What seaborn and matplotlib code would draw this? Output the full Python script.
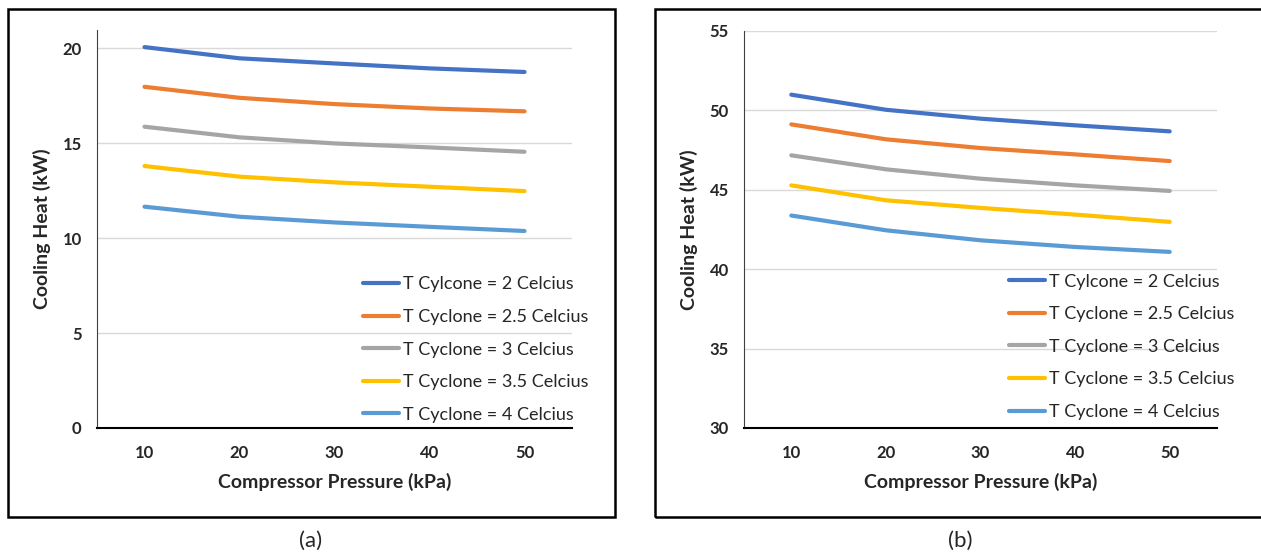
"""Cooling heat vs compressor pressure for several cyclone temperatures."""

import matplotlib.pyplot as plt
import matplotlib.patches as patches
import pandas as pd
import seaborn as sns

sns.set_theme(style="white")
plt.rcParams["font.family"] = ["Lato", "DejaVu Sans"]

# data
pressure = [10, 20, 30, 40, 50]
series_labels = [
    "T Cylcone = 2 Celcius",
    "T Cyclone = 2.5 Celcius",
    "T Cyclone = 3 Celcius",
    "T Cyclone = 3.5 Celcius",
    "T Cyclone = 4 Celcius",
]
heat_a = [
    [20.05, 19.46, 19.19, 18.93, 18.74],
    [17.96, 17.38, 17.05, 16.82, 16.67],
    [15.86, 15.30, 14.98, 14.77, 14.54],
    [13.79, 13.23, 12.93, 12.70, 12.47],
    [11.65, 11.12, 10.82, 10.59, 10.37],
]
heat_b = [
    [50.99, 50.04, 49.48, 49.06, 48.68],
    [49.12, 48.18, 47.63, 47.23, 46.81],
    [47.17, 46.29, 45.70, 45.28, 44.93],
    [45.28, 44.34, 43.86, 43.44, 42.98],
    [43.38, 42.45, 41.82, 41.40, 41.09],
]
colors = ["#4472C4", "#ED7D31", "#A5A5A5", "#FFC000", "#5B9BD5"]
yticks_a = [0, 5, 10, 15, 20]
yticks_b = [30, 35, 40, 45, 50, 55]


def to_long(values):
    rows = []
    for label, vals in zip(series_labels, values):
        for p, v in zip(pressure, vals):
            rows.append({"pressure": p, "heat": v, "series": label})
    return pd.DataFrame(rows)


def draw_panel(ax, values, yticks, ylim, legend_anchor):
    df = to_long(values)
    sns.lineplot(data=df, x="pressure", y="heat", hue="series", hue_order=series_labels,
                 palette=colors, linewidth=3, ax=ax, solid_capstyle="round")
    ax.set_xlim(5, 55)
    ax.set_ylim(*ylim)
    ax.set_xticks(pressure)
    ax.set_yticks(yticks)
    ax.set_xticklabels([str(p) for p in pressure], fontweight="bold", fontsize=12)
    ax.set_yticklabels([str(t) for t in yticks], fontweight="bold", fontsize=12)
    ax.tick_params(axis="x", length=0, pad=12)
    ax.tick_params(axis="y", length=0, pad=11)
    ax.grid(axis="y", color="#D9D9D9", linewidth=1)
    for s in ["top", "right"]:
        ax.spines[s].set_visible(False)
    ax.spines["left"].set_color("#404040")
    ax.spines["left"].set_linewidth(0.8)
    ax.spines["bottom"].set_color("black")
    ax.spines["bottom"].set_linewidth(1.5)
    ax.set_xlabel("Compressor Pressure (kPa)", fontweight="bold", fontsize=14, labelpad=9)
    ax.set_ylabel("Cooling Heat (kW)", fontweight="bold", fontsize=14, labelpad=8)
    ax.legend(loc="lower left", bbox_to_anchor=legend_anchor, frameon=False, fontsize=13,
              handlelength=2.0, handletextpad=0.2, labelspacing=0.92, borderaxespad=0)


fig = plt.figure(figsize=(12.61, 5.54), dpi=100)
ax_a = fig.add_axes([97 / 1261, 1 - 428 / 554, 475 / 1261, 398 / 554])
ax_b = fig.add_axes([744 / 1261, 1 - 428 / 554, 473 / 1261, 397 / 554])

draw_panel(ax_a, heat_a, yticks_a, (0, 20.95), (0.545, -0.005))
draw_panel(ax_b, heat_b, yticks_b, (30, 55), (0.545, 0.002))

# outer frames around each panel
for x0, x1 in [(8, 615), (655, 1265)]:
    fig.add_artist(patches.Rectangle((x0 / 1261, 1 - 517 / 554), (x1 - x0) / 1261, (517 - 9) / 554,
                                     transform=fig.transFigure, fill=False, edgecolor="black",
                                     linewidth=1.8))

fig.text(311 / 1261, 1 - 541 / 554, "(a)", ha="center", va="center", fontsize=16)
fig.text(960 / 1261, 1 - 541 / 554, "(b)", ha="center", va="center", fontsize=16)

fig.savefig("out.png", dpi=100)
